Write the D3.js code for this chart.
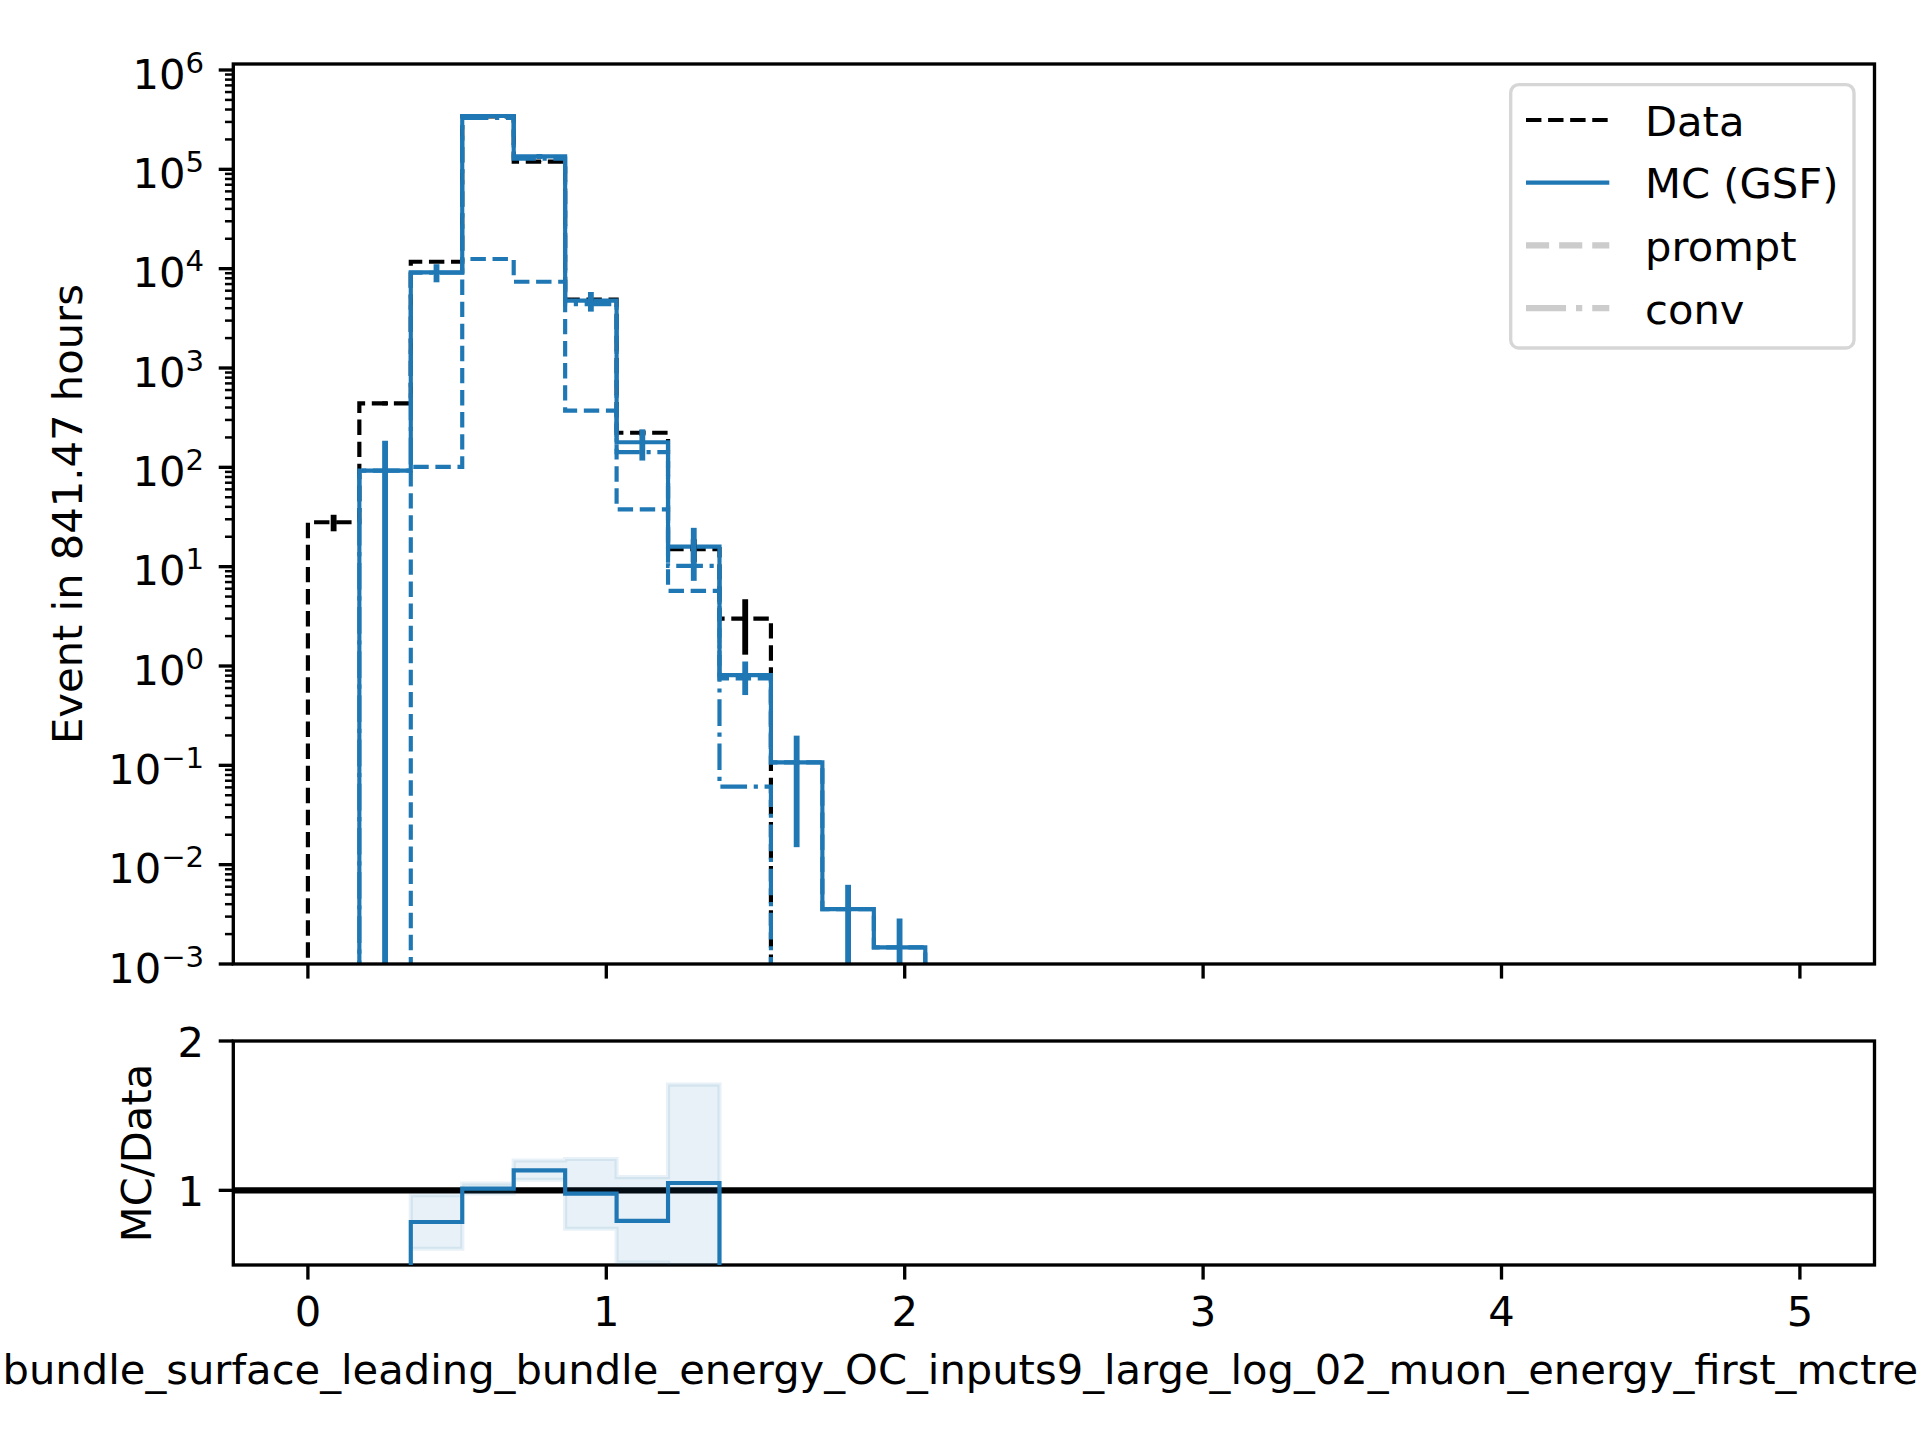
<!DOCTYPE html>
<html><head><meta charset="utf-8">
<script src="https://cdn.jsdelivr.net/npm/d3@7"></script>
<style>
body{margin:0;background:#fff}
svg{display:block}
text{font-family:"DejaVu Sans",sans-serif;fill:#000}
</style>
</head><body>
<svg id="c" width="1920" height="1440"></svg>
<script>
// ---------------- data ----------------
const binEdges = [0, 0.1724, 0.3448, 0.5172, 0.6897, 0.8621, 1.0345, 1.2069, 1.3793, 1.5517,
  1.7241, 1.8966, 2.0690, 2.2414, 2.4138, 2.5862, 2.7586, 2.9310, 3.1034, 3.2759,
  3.4483, 3.6207, 3.7931, 3.9655, 4.1379, 4.3103, 4.4828, 4.6552, 4.8276, 5.0];
const dataCounts = [28, 441, 11750, 340000, 119500, 4870, 223, 15, 3, 0,
  0, 0, 0, 0, 0, 0, 0, 0, 0, 0, 0, 0, 0, 0, 0, 0, 0, 0, 0];
const dataErrors = [5.3, 21, 108, 583, 346, 70, 15, 3.9, 1.7, 0,
  0, 0, 0, 0, 0, 0, 0, 0, 0, 0, 0, 0, 0, 0, 0, 0, 0, 0, 0];
const mcTotal = [0, 92.5, 9190, 344000, 135000, 4760, 179, 15.9, 0.81, 0.107,
  0.00357, 0.00147, 0, 0, 0, 0, 0, 0, 0, 0, 0, 0, 0, 0, 0, 0, 0, 0, 0];
const mcErrors = [0, 92.5, 1900, 8000, 7900, 1065, 62, 8.7, 0.3, 0.092,
  0.0027, 0.0014, 0, 0, 0, 0, 0, 0, 0, 0, 0, 0, 0, 0, 0, 0, 0, 0, 0];
const promptMC = [0, 0, 101, 12500, 7390, 372, 37.8, 5.7, 0.75, 0.107,
  0.00357, 0.00147, 0, 0, 0, 0, 0, 0, 0, 0, 0, 0, 0, 0, 0, 0, 0, 0, 0];
const convMC = [0, 92.5, 9090, 330000, 128000, 4400, 142, 10.2, 0.061, 0,
  0, 0, 0, 0, 0, 0, 0, 0, 0, 0, 0, 0, 0, 0, 0, 0, 0, 0, 0];
const ratioVals = [0, 0.21, 0.788, 1.011, 1.134, 0.978, 0.795, 1.049, 0.27, null,
  null, null, null, null, null, null, null, null, null, null, null, null, null, null, null, null, null, null, null];
const bandLow = [null, 0.0, 0.609, 0.98, 1.071, 0.743, 0.516, 0.40, 0.17, null,
  null, null, null, null, null, null, null, null, null, null, null, null, null, null, null, null, null, null, null];
const bandHigh = [null, 0.42, 0.967, 1.045, 1.20, 1.21, 1.089, 1.708, 0.37, null,
  null, null, null, null, null, null, null, null, null, null, null, null, null, null, null, null, null, null, null];
const xTicks = [0, 1, 2, 3, 4, 5];
const yTickExponents = [-3, -2, -1, 0, 1, 2, 3, 4, 5, 6];
const ratioTicks = [1, 2];
const legendLabels = ["Data", "MC (GSF)", "prompt", "conv"];
const yLabel = "Event in 841.47 hours";
const ratioLabel = "MC/Data";
const xLabel = "bundle_surface_leading_bundle_energy_OC_inputs9_large_log_02_muon_energy_first_mctree";

// ---------------- layout ----------------
const FS = 41.67, PT = 300 / 72;
const blue = "#1f77b4";
const M = {l: 233.3, r: 1874.5, t: 64, b: 964};
const R = {l: 233.3, r: 1874.5, t: 1041, b: 1265};
const svg = d3.select("#c");

const x = d3.scaleLinear().domain([-0.25, 5.25]).range([M.l, M.r]);
const yMain = d3.scaleLog().domain([1e-3, Math.pow(10, 6.0604)]).range([M.b, M.t]);
const yRat = d3.scaleLinear().domain([0.5, 2]).range([R.b, R.t]);
const ym = v => (v > 0 ? yMain(v) : M.b + 60);

const defs = svg.append("defs");
defs.append("clipPath").attr("id", "clipM").append("rect")
  .attr("x", M.l).attr("y", M.t).attr("width", M.r - M.l).attr("height", M.b - M.t);
defs.append("clipPath").attr("id", "clipR").append("rect")
  .attr("x", R.l).attr("y", R.t).attr("width", R.r - R.l).attr("height", R.b - R.t);

function stepPts(vals) {
  const pts = [[binEdges[0], 0]];
  vals.forEach((v, i) => { pts.push([binEdges[i], v]); pts.push([binEdges[i + 1], v]); });
  pts.push([binEdges[binEdges.length - 1], 0]);
  return pts;
}
const lineM = d3.line().x(d => x(d[0])).y(d => ym(d[1]));

const gM = svg.append("g").attr("clip-path", "url(#clipM)");
const LW = 1 * PT;
const dashed = [3.7 * LW, 1.6 * LW].join(",");
const dashdot = [6.4 * LW, 1.6 * LW, 1 * LW, 1.6 * LW].join(",");

gM.append("path").attr("d", lineM(stepPts(dataCounts))).attr("fill", "none")
  .attr("stroke", "#000").attr("stroke-width", LW).attr("stroke-dasharray", dashed);
gM.append("path").attr("d", lineM(stepPts(mcTotal))).attr("fill", "none")
  .attr("stroke", blue).attr("stroke-width", LW).attr("stroke-linejoin", "miter");
gM.append("path").attr("d", lineM(stepPts(promptMC))).attr("fill", "none")
  .attr("stroke", blue).attr("stroke-width", LW).attr("stroke-dasharray", dashed);
gM.append("path").attr("d", lineM(stepPts(convMC))).attr("fill", "none")
  .attr("stroke", blue).attr("stroke-width", LW).attr("stroke-dasharray", dashdot);

const centers = binEdges.slice(0, -1).map((e, i) => (e + binEdges[i + 1]) / 2);
function errBars(vals, errs, color) {
  vals.forEach((v, i) => {
    if (v > 0 && errs[i] > 0) {
      gM.append("line").attr("x1", x(centers[i])).attr("x2", x(centers[i]))
        .attr("y1", ym(v + errs[i])).attr("y2", ym(v - errs[i]))
        .attr("stroke", color).attr("stroke-width", 1.4 * PT);
    }
  });
}
errBars(dataCounts, dataErrors, "#000");
errBars(mcTotal, mcErrors, blue);

// main axes ticks
const gAx = svg.append("g");
function tick(x1, y1, x2, y2, w) {
  gAx.append("line").attr("x1", x1).attr("y1", y1).attr("x2", x2).attr("y2", y2)
    .attr("stroke", "#000").attr("stroke-width", w);
}
const majL = 3.5 * PT, minL = 2 * PT, majW = 0.8 * PT, minW = 0.6 * PT;
xTicks.forEach(t => { tick(x(t), M.b, x(t), M.b + majL, majW); tick(x(t), R.b, x(t), R.b + majL, majW); });
yTickExponents.forEach(e => {
  const yy = yMain(Math.pow(10, e));
  tick(M.l - majL, yy, M.l, yy, majW);
  if (e < 6) {
    for (let k = 2; k <= 9; k++) {
      const y2 = yMain(k * Math.pow(10, e));
      tick(M.l - minL, y2, M.l, y2, minW);
    }
  }
  const t = gAx.append("text").attr("x", M.l - majL - 3.5 * PT).attr("y", yy + 18.7)
    .attr("text-anchor", "end").style("font-size", FS + "px");
  t.append("tspan").text("10");
  t.append("tspan").attr("dy", -16).style("font-size", (FS * 0.7) + "px")
    .text(e < 0 ? "\u2212" + (-e) : String(e));
});
gAx.append("rect").attr("x", M.l).attr("y", M.t).attr("width", M.r - M.l).attr("height", M.b - M.t)
  .attr("fill", "none").attr("stroke", "#000").attr("stroke-width", majW);

// ---------------- ratio panel ----------------
const gR = svg.append("g").attr("clip-path", "url(#clipR)");
gR.append("line").attr("x1", R.l).attr("x2", R.r).attr("y1", yRat(1)).attr("y2", yRat(1))
  .attr("stroke", "#000").attr("stroke-width", 1.5 * PT);
const bandPts = [];
bandLow.forEach((lo, i) => {
  if (lo !== null) {
    bandPts.push({x: binEdges[i], lo: lo, hi: bandHigh[i]});
    bandPts.push({x: binEdges[i + 1], lo: lo, hi: bandHigh[i]});
  }
});
const area = d3.area().x(d => x(d.x)).y0(d => yRat(d.lo)).y1(d => yRat(d.hi));
gR.append("path").attr("d", area(bandPts)).attr("fill", blue).attr("fill-opacity", 0.1)
  .attr("stroke", blue).attr("stroke-opacity", 0.1).attr("stroke-width", LW);
const ratPts = [];
ratioVals.forEach((r, i) => {
  if (r !== null) { ratPts.push([binEdges[i], r]); ratPts.push([binEdges[i + 1], r]); }
});
gR.append("path").attr("d", d3.line().x(d => x(d[0])).y(d => yRat(d[1]))(ratPts))
  .attr("fill", "none").attr("stroke", blue).attr("stroke-width", LW);

ratioTicks.forEach(t => {
  tick(R.l - majL, yRat(t), R.l, yRat(t), majW);
  gAx.append("text").attr("x", R.l - majL - 3.5 * PT).attr("y", yRat(t) + 15.8)
    .attr("text-anchor", "end").style("font-size", FS + "px").text(t);
});
xTicks.forEach(t => {
  gAx.append("text").attr("x", x(t)).attr("y", 1326).attr("text-anchor", "middle")
    .style("font-size", FS + "px").text(t);
});
gAx.append("rect").attr("x", R.l).attr("y", R.t).attr("width", R.r - R.l).attr("height", R.b - R.t)
  .attr("fill", "none").attr("stroke", "#000").attr("stroke-width", majW);

// labels
svg.append("text").attr("transform", `translate(82,${(M.t + M.b) / 2}) rotate(-90)`)
  .attr("text-anchor", "middle").style("font-size", FS + "px").text(yLabel);
svg.append("text").attr("transform", `translate(151,${(R.t + R.b) / 2}) rotate(-90)`)
  .attr("text-anchor", "middle").style("font-size", FS + "px").text(ratioLabel);
svg.append("text").attr("x", 2.5).attr("y", 1384).attr("text-anchor", "start")
  .style("font-size", FS + "px").text(xLabel);

// ---------------- legend ----------------
const gL = svg.append("g");
gL.append("rect").attr("x", 1510.7).attr("y", 84.7).attr("width", 1854 - 1510.7).attr("height", 348 - 84.7)
  .attr("rx", 8).attr("fill", "#fff").attr("fill-opacity", 0.8)
  .attr("stroke", "#cccccc").attr("stroke-opacity", 0.8).attr("stroke-width", majW);
const legStyles = [
  {c: "#000", w: LW, d: dashed},
  {c: blue, w: LW, d: null},
  {c: "#cccccc", w: 1.5 * PT, d: [3.7 * 1.5 * PT, 1.6 * 1.5 * PT].join(",")},
  {c: "#cccccc", w: 1.5 * PT, d: [6.4 * 1.5 * PT, 1.6 * 1.5 * PT, 1 * 1.5 * PT, 1.6 * 1.5 * PT].join(",")}
];
legendLabels.forEach((lab, i) => {
  const yy = 120 + i * 62.7;
  const s = legStyles[i];
  const ln = gL.append("line").attr("x1", 1526).attr("x2", 1609.3).attr("y1", yy).attr("y2", yy)
    .attr("stroke", s.c).attr("stroke-width", s.w);
  if (s.d) ln.attr("stroke-dasharray", s.d);
  gL.append("text").attr("x", 1645).attr("y", yy + 15.7).style("font-size", FS + "px").text(lab);
});
</script>
</body></html>
